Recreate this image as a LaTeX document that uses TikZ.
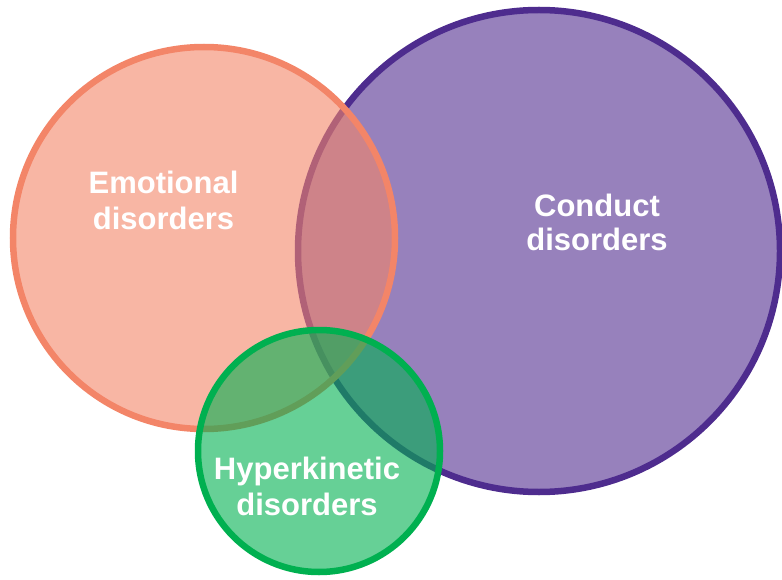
\documentclass[tikz,border=0pt]{standalone}
\usepackage{fontspec}
\setmainfont{Liberation Sans}
\definecolor{emoC}{RGB}{243,133,104}
\definecolor{conFill}{RGB}{151,129,188}
\definecolor{conLine}{RGB}{78,44,142}
\definecolor{hypC}{RGB}{0,176,80}
\tikzset{
  venn/.style={line width=6.5pt},
  lbl/.style={text=white, font=\fontsize{31}{36}\selectfont\bfseries, anchor=base, inner sep=0pt}
}
\begin{document}
\begin{tikzpicture}[x=1pt,y=-1pt]
\useasboundingbox (0,0) rectangle (782,580);
% Conduct disorders circle
\draw[venn, draw=conLine, fill=conFill] (539,251) circle[radius=241];
% Emotional disorders circle
\draw[venn, draw=emoC, fill=emoC, fill opacity=0.6] (204,238) circle[radius=191];
% Hyperkinetic disorders circle
\draw[venn, draw=hypC, fill=hypC, fill opacity=0.6] (319,451) circle[radius=121];
% labels
\node[lbl] (emo1) at (163.5,194) {Emotional};
\node[lbl] (emo2) at (163.5,230) {disorders};
\node[lbl] (con1) at (597,217) {Conduct};
\node[lbl] (con2) at (597,251) {disorders};
\node[lbl] (hyp1) at (307,479) {Hyperkinetic};
\node[lbl] (hyp2) at (307,515) {disorders};
\end{tikzpicture}
\end{document}
